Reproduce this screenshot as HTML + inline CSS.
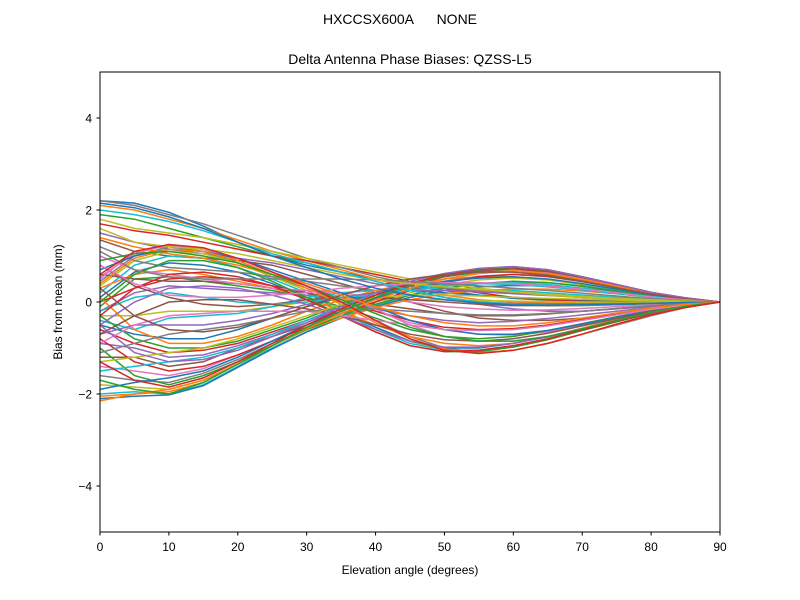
<!DOCTYPE html>
<html><head><meta charset="utf-8"><style>
html,body{margin:0;padding:0;background:#fff;}
svg{display:block;font-family:"Liberation Sans","DejaVu Sans",sans-serif;}
</style></head><body>
<svg id="chart" width="800" height="600" viewBox="0 0 800 600" xmlns="http://www.w3.org/2000/svg">
<rect width="800" height="600" fill="#fff"/>
<text x="400" y="24" text-anchor="middle" font-size="14" fill="#000" xml:space="preserve">HXCCSX600A      NONE</text>
<text x="410" y="64" text-anchor="middle" font-size="14" fill="#000">Delta Antenna Phase Biases: QZSS-L5</text>
<g id="lines"></g>
<rect x="100" y="72" width="620" height="460" fill="none" stroke="#000" stroke-width="1"/>
<g id="ticks"></g>
<text x="410" y="574" text-anchor="middle" font-size="12">Elevation angle (degrees)</text>
<text transform="translate(62,302) rotate(-90)" text-anchor="middle" font-size="12">Bias from mean (mm)</text>
</svg>
<script>
const elevations=[0,5,10,15,20,25,30,35,40,45,50,55,60,65,70,75,80,85,90];
const xTicks=[0,10,20,30,40,50,60,70,80,90];
const yTicks=[-4,-2,0,2,4];
const yTickLabels=["\u22124","\u22122","0","2","4"];
const s01=[2.2,2.15,1.95,1.65,1.3,1.0,0.8,0.65,0.5,0.35,0.25,0.15,0.08,0.04,0.02,0.01,0,0,0];
const s02=[2.1,2.0,1.8,1.6,1.35,1.1,0.9,0.7,0.5,0.3,0.15,0.05,0,-0.02,-0.03,-0.02,-0.01,0,0];
const s03=[1.9,1.8,1.6,1.4,1.2,1.0,0.85,0.65,0.45,0.25,0.1,0,-0.05,-0.08,-0.08,-0.06,-0.04,-0.02,0];
const s04=[1.7,1.55,1.45,1.3,1.15,1.0,0.9,0.75,0.6,0.45,0.3,0.2,0.1,0.05,0.02,0.01,0,0,0];
const s05=[1.5,1.3,1.15,1.05,0.95,0.85,0.7,0.55,0.4,0.25,0.1,-0.05,-0.15,-0.2,-0.2,-0.15,-0.1,-0.05,0];
const s06=[1.35,1.1,1.0,0.95,0.9,0.8,0.6,0.4,0.2,0.0,-0.2,-0.35,-0.4,-0.4,-0.35,-0.25,-0.15,-0.07,0];
const s07=[0.55,1.05,1.25,1.15,0.9,0.6,0.35,0.1,-0.2,-0.45,-0.6,-0.7,-0.72,-0.65,-0.5,-0.35,-0.2,-0.1,0];
const s08=[0.45,1.0,1.2,1.1,0.85,0.55,0.3,0.0,-0.4,-0.75,-1.0,-1.1,-1.05,-0.9,-0.7,-0.5,-0.3,-0.12,0];
const s09=[0.35,0.9,1.1,1.05,0.85,0.55,0.25,-0.15,-0.55,-0.85,-1.05,-1.1,-1.05,-0.9,-0.7,-0.48,-0.28,-0.12,0];
const s10=[0.2,0.8,1.0,0.95,0.75,0.5,0.2,-0.2,-0.6,-0.9,-1.05,-1.05,-0.95,-0.8,-0.6,-0.42,-0.25,-0.1,0];
const s11=[0.1,0.65,0.85,0.8,0.65,0.4,0.1,-0.2,-0.55,-0.85,-1.0,-1.0,-0.9,-0.75,-0.58,-0.4,-0.22,-0.1,0];
const s12=[0.3,0.6,0.7,0.6,0.45,0.3,0.1,-0.2,-0.5,-0.75,-0.9,-0.95,-0.9,-0.75,-0.57,-0.38,-0.2,-0.08,0];
const s13=[-0.1,0.5,0.55,0.45,0.35,0.25,0.1,-0.1,-0.35,-0.6,-0.75,-0.8,-0.75,-0.62,-0.47,-0.32,-0.18,-0.07,0];
const s14=[0.0,0.3,0.5,0.55,0.5,0.35,0.2,0.0,-0.2,-0.4,-0.55,-0.6,-0.58,-0.5,-0.38,-0.26,-0.15,-0.06,0];
const s15=[-0.2,0.2,0.35,0.3,0.25,0.2,0.15,0.0,-0.15,-0.3,-0.4,-0.45,-0.42,-0.36,-0.28,-0.2,-0.12,-0.05,0];
const s16=[0.6,0.5,0.45,0.45,0.4,0.3,0.2,0.05,-0.05,-0.15,-0.25,-0.3,-0.3,-0.26,-0.2,-0.14,-0.08,-0.03,0];
const s17=[1.0,0.7,0.6,0.5,0.4,0.3,0.25,0.2,0.1,0.0,-0.1,-0.15,-0.18,-0.17,-0.14,-0.1,-0.06,-0.03,0];
const s18=[1.2,0.9,0.75,0.7,0.65,0.55,0.45,0.35,0.25,0.15,0.05,0,-0.03,-0.04,-0.04,-0.03,-0.02,-0.01,0];
const s19=[-0.3,-0.3,-0.2,-0.2,-0.2,-0.1,0.0,0.05,0.05,0.05,0.05,0.03,0.02,0.01,0,0,0,0,0];
const s20=[-0.4,-0.6,-0.35,-0.3,-0.25,-0.1,0.1,0.2,0.25,0.3,0.3,0.28,0.25,0.2,0.15,0.1,0.06,0.03,0];
const s21=[-0.5,-0.7,-0.8,-0.8,-0.6,-0.35,-0.1,0.1,0.2,0.25,0.2,0.15,0.1,0.07,0.05,0.03,0.02,0.01,0];
const s22=[0.1,-0.6,-0.9,-0.9,-0.75,-0.5,-0.2,0.05,0.25,0.4,0.5,0.55,0.55,0.48,0.38,0.26,0.15,0.06,0];
const s23=[-0.3,-0.8,-1.0,-1.0,-0.85,-0.6,-0.35,-0.05,0.2,0.4,0.55,0.65,0.68,0.6,0.47,0.32,0.18,0.07,0];
const s24=[-0.6,-0.9,-1.1,-1.05,-0.9,-0.65,-0.4,-0.1,0.15,0.4,0.55,0.68,0.72,0.65,0.5,0.34,0.19,0.08,0];
const s25=[-0.9,-1.0,-1.2,-1.15,-0.95,-0.7,-0.45,-0.15,0.15,0.4,0.58,0.7,0.75,0.68,0.52,0.36,0.2,0.08,0];
const s26=[-1.2,-1.2,-1.4,-1.3,-1.0,-0.75,-0.5,-0.2,0.1,0.35,0.55,0.68,0.74,0.67,0.52,0.36,0.2,0.08,0];
const s27=[-1.4,-1.5,-1.6,-1.45,-1.15,-0.85,-0.55,-0.25,0.05,0.3,0.5,0.62,0.68,0.63,0.5,0.35,0.2,0.08,0];
const s28=[-1.6,-1.7,-1.75,-1.55,-1.25,-0.9,-0.6,-0.3,0.0,0.25,0.45,0.56,0.6,0.55,0.44,0.31,0.18,0.07,0];
const s29=[-1.8,-1.85,-1.9,-1.7,-1.35,-1.0,-0.65,-0.35,-0.05,0.2,0.38,0.48,0.52,0.48,0.39,0.28,0.16,0.06,0];
const s30=[-2.0,-1.95,-2.0,-1.8,-1.4,-1.0,-0.65,-0.35,-0.08,0.15,0.3,0.4,0.44,0.42,0.35,0.25,0.14,0.06,0];
const s31=[-2.1,-2.05,-2.02,-1.82,-1.42,-1.02,-0.65,-0.35,-0.1,0.1,0.25,0.33,0.36,0.35,0.3,0.22,0.13,0.05,0];
const s32=[-2.15,-2.0,-1.95,-1.75,-1.35,-0.95,-0.6,-0.35,-0.12,0.05,0.18,0.25,0.28,0.28,0.24,0.18,0.1,0.04,0];
const s33=[-1.0,-1.6,-1.8,-1.6,-1.3,-0.95,-0.6,-0.3,-0.05,0.15,0.3,0.4,0.45,0.42,0.34,0.24,0.14,0.06,0];
const s34=[-0.8,-1.3,-1.5,-1.4,-1.15,-0.85,-0.55,-0.25,0.0,0.25,0.42,0.55,0.6,0.56,0.45,0.32,0.18,0.07,0];
const s35=[-0.7,-0.5,-0.5,-0.5,-0.4,-0.25,-0.05,0.1,0.2,0.25,0.25,0.22,0.18,0.14,0.1,0.07,0.04,0.02,0];
const s36=[0.8,0.35,0.1,-0.05,-0.1,-0.05,0.05,0.1,0.1,0.05,0.0,-0.05,-0.08,-0.08,-0.07,-0.05,-0.03,-0.01,0];
const s37=[0.5,1.1,1.22,1.15,0.95,0.65,0.4,0.15,-0.15,-0.5,-0.75,-0.85,-0.85,-0.75,-0.58,-0.4,-0.22,-0.09,0];
const s38=[2.2,2.1,1.9,1.7,1.45,1.2,0.95,0.75,0.55,0.4,0.3,0.25,0.2,0.15,0.1,0.07,0.04,0.02,0];
const s39=[1.8,1.6,1.5,1.4,1.25,1.1,0.95,0.8,0.65,0.5,0.4,0.3,0.22,0.15,0.1,0.06,0.03,0.01,0];
const s40=[-0.2,0.1,0.2,0.1,0.0,-0.05,0.0,0.1,0.15,0.25,0.35,0.4,0.42,0.38,0.3,0.2,0.12,0.05,0];
const s41=[0.7,1.0,1.15,1.1,0.95,0.7,0.45,0.2,-0.1,-0.4,-0.6,-0.7,-0.7,-0.62,-0.48,-0.33,-0.19,-0.08,0];
const s42=[0.4,0.95,1.15,1.1,0.9,0.6,0.3,-0.05,-0.45,-0.8,-1.02,-1.1,-1.05,-0.9,-0.7,-0.48,-0.28,-0.12,0];
const s43=[0.0,0.6,0.9,0.9,0.75,0.45,0.1,-0.3,-0.65,-0.95,-1.08,-1.08,-0.98,-0.82,-0.62,-0.43,-0.25,-0.1,0];
const s44=[-0.3,0.3,0.6,0.65,0.55,0.35,0.05,-0.3,-0.65,-0.95,-1.08,-1.05,-0.95,-0.8,-0.6,-0.42,-0.24,-0.1,0];
const s45=[-0.5,0.0,0.3,0.35,0.3,0.15,-0.05,-0.3,-0.6,-0.85,-0.98,-0.98,-0.9,-0.76,-0.58,-0.4,-0.23,-0.1,0];
const s46=[-0.7,-0.3,0.0,0.05,0.05,-0.05,-0.15,-0.3,-0.5,-0.7,-0.82,-0.85,-0.8,-0.68,-0.52,-0.36,-0.2,-0.08,0];
const s47=[-0.9,-0.5,-0.3,-0.25,-0.2,-0.2,-0.2,-0.3,-0.4,-0.5,-0.6,-0.62,-0.6,-0.52,-0.4,-0.28,-0.16,-0.07,0];
const s48=[-1.1,-0.9,-0.7,-0.6,-0.5,-0.35,-0.2,-0.15,-0.15,-0.2,-0.25,-0.28,-0.28,-0.25,-0.2,-0.14,-0.08,-0.03,0];
const s49=[-1.3,-1.2,-1.1,-1.0,-0.8,-0.55,-0.3,-0.05,0.1,0.15,0.15,0.13,0.1,0.08,0.06,0.04,0.02,0.01,0];
const s50=[-1.5,-1.4,-1.3,-1.2,-1.0,-0.7,-0.4,-0.1,0.15,0.3,0.38,0.4,0.38,0.33,0.26,0.18,0.1,0.04,0];
const s51=[-1.9,-1.75,-1.65,-1.5,-1.2,-0.85,-0.5,-0.2,0.08,0.3,0.45,0.52,0.55,0.5,0.4,0.28,0.16,0.06,0];
const s52=[-2.05,-2.0,-1.9,-1.7,-1.35,-0.95,-0.58,-0.25,0.05,0.3,0.5,0.62,0.68,0.62,0.49,0.34,0.19,0.08,0];
const s53=[-1.7,-1.9,-2.0,-1.75,-1.35,-0.95,-0.55,-0.2,0.1,0.38,0.58,0.7,0.76,0.7,0.55,0.38,0.21,0.09,0];
const s54=[-1.3,-1.7,-1.85,-1.65,-1.3,-0.9,-0.5,-0.15,0.15,0.4,0.6,0.72,0.77,0.7,0.55,0.38,0.21,0.09,0];
const s55=[-0.5,-1.1,-1.3,-1.25,-1.05,-0.75,-0.45,-0.1,0.2,0.45,0.62,0.73,0.77,0.7,0.55,0.38,0.21,0.09,0];
const s56=[0.3,-0.3,-0.6,-0.65,-0.55,-0.35,-0.1,0.15,0.35,0.5,0.6,0.65,0.65,0.58,0.45,0.31,0.17,0.07,0];
const s57=[0.8,0.4,0.15,0.1,0.1,0.15,0.2,0.3,0.35,0.4,0.42,0.42,0.4,0.35,0.28,0.2,0.11,0.05,0];
const s58=[1.1,0.7,0.55,0.5,0.5,0.5,0.5,0.5,0.48,0.45,0.4,0.35,0.3,0.25,0.19,0.13,0.07,0.03,0];
const s59=[1.6,1.3,1.2,1.15,1.05,0.9,0.75,0.6,0.48,0.4,0.33,0.27,0.22,0.17,0.12,0.08,0.05,0.02,0];
const s60=[2.0,1.9,1.75,1.55,1.3,1.05,0.85,0.65,0.45,0.25,0.1,0.0,-0.05,-0.07,-0.07,-0.05,-0.03,-0.01,0];
const s61=[2.15,2.05,1.85,1.6,1.3,1.0,0.75,0.5,0.3,0.15,0.05,-0.02,-0.06,-0.07,-0.06,-0.05,-0.03,-0.01,0];
const s62=[1.4,1.2,1.05,0.95,0.8,0.6,0.4,0.15,-0.1,-0.3,-0.45,-0.52,-0.52,-0.45,-0.35,-0.24,-0.13,-0.05,0];
const s63=[0.9,1.05,1.1,1.0,0.85,0.6,0.35,0.05,-0.25,-0.55,-0.75,-0.85,-0.85,-0.75,-0.58,-0.4,-0.22,-0.09,0];
const s64=[0.6,1.1,1.25,1.18,0.95,0.65,0.35,0.0,-0.4,-0.8,-1.05,-1.12,-1.05,-0.9,-0.7,-0.48,-0.28,-0.12,0];
const series=[s01,s02,s03,s04,s05,s06,s07,s08,s09,s10,s11,s12,s13,s14,s15,s16,s17,s18,s19,s20,s21,s22,s23,s24,s25,s26,s27,s28,s29,s30,s31,s32,s33,s34,s35,s36,s37,s38,s39,s40,s41,s42,s43,s44,s45,s46,s47,s48,s49,s50,s51,s52,s53,s54,s55,s56,s57,s58,s59,s60,s61,s62,s63,s64];

const colors=["#1f77b4","#ff7f0e","#2ca02c","#d62728","#9467bd","#8c564b","#e377c2","#7f7f7f","#bcbd22","#17becf"];
const NS="http://www.w3.org/2000/svg";
function xScale(v){return 100+(v-0)/(90-0)*620;}
function yScale(v){return 532-(v+5)/10*460;}
const g=document.getElementById('lines');
series.forEach((s,i)=>{
  const p=document.createElementNS(NS,'polyline');
  p.setAttribute('points',s.map((v,j)=>xScale(elevations[j]).toFixed(2)+','+yScale(v).toFixed(2)).join(' '));
  p.setAttribute('fill','none');
  p.setAttribute('stroke',colors[i%10]);
  p.setAttribute('stroke-width','1.5');
  
  
  g.appendChild(p);
});
const t=document.getElementById('ticks');
xTicks.forEach(v=>{
  const x=xScale(v);
  const l=document.createElementNS(NS,'line');
  l.setAttribute('x1',x);l.setAttribute('x2',x);l.setAttribute('y1',532);l.setAttribute('y2',535.5);
  l.setAttribute('stroke','#000');
  
  
  t.appendChild(l);
  const tx=document.createElementNS(NS,'text');
  tx.setAttribute('x',x);tx.setAttribute('y',551);tx.setAttribute('text-anchor','middle');tx.setAttribute('font-size','12');
  tx.textContent=String(v);
  
  
  t.appendChild(tx);
});
yTicks.forEach((v,i)=>{
  const y=yScale(v);
  const l=document.createElementNS(NS,'line');
  l.setAttribute('x1',96.5);l.setAttribute('x2',100);l.setAttribute('y1',y);l.setAttribute('y2',y);
  l.setAttribute('stroke','#000');
  
  
  t.appendChild(l);
  const tx=document.createElementNS(NS,'text');
  tx.setAttribute('x',92);tx.setAttribute('y',y+4.5);tx.setAttribute('text-anchor','end');tx.setAttribute('font-size','12');
  tx.textContent=yTickLabels[i];
  
  
  t.appendChild(tx);
});
</script>
</body></html>
